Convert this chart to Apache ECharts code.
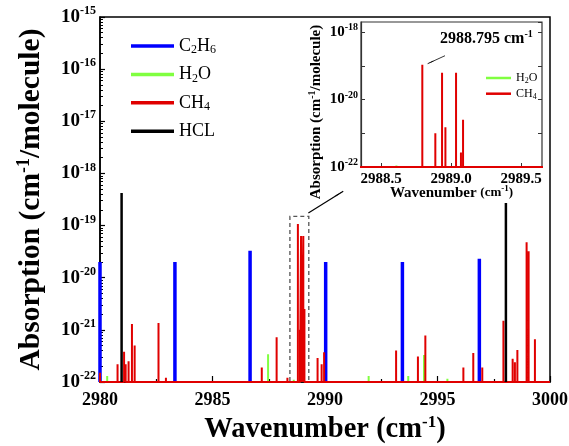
<!DOCTYPE html>
<html><head><meta charset="utf-8">
<script src="https://cdn.jsdelivr.net/npm/echarts@6/dist/echarts.min.js"></script>
<style>html,body{margin:0;padding:0;background:#fff}#c{width:569px;height:446px}</style>
</head><body><div id="c"></div>
<script>
// ---- data (wavenumber cm-1, absorption cm-1/molecule) ----
const c2h6X = [2980.0, 2983.33, 2986.67, 2990.03, 2993.44, 2996.86];
const c2h6Y = [2.0e-20, 2.0e-20, 3.3e-20, 2.0e-20, 2.0e-20, 2.3e-20];

const h2oX = [2980.32, 2983.15, 2987.47, 2988.61, 2991.94, 2993.70, 2994.40, 2995.44];
const h2oY = [1.3e-22, 1.05e-22, 3.4e-22, 1.1e-22, 1.3e-22, 1.3e-22, 3.3e-22, 1.15e-22];

const ch4X = [2980.0, 2980.78, 2981.07, 2981.14, 2981.27, 2981.42, 2981.54, 2982.60, 2982.93,
  2987.19, 2987.85, 2988.33, 2988.795, 2988.888, 2988.936, 2988.96, 2989.036, 2989.071, 2989.086,
  2989.67, 2989.85, 2989.96, 2993.16, 2994.13, 2994.46, 2996.15, 2996.59, 2996.99, 2997.93,
  2998.34, 2998.44, 2998.55, 2998.96, 2999.05, 2999.33];
const ch4Y = [1.5e-22, 2.2e-22, 3.8e-22, 2.2e-22, 2.5e-22, 1.3e-21, 5.0e-22, 1.35e-21, 1.2e-22,
  1.9e-22, 7.2e-22, 1.2e-22, 1.07e-19, 1.0e-21, 6.3e-20, 1.5e-21, 6.3e-20, 2.7e-22, 2.5e-21,
  2.9e-22, 2.2e-22, 3.7e-22, 4.0e-22, 3.1e-22, 7.8e-22, 1.9e-22, 3.6e-22, 1.9e-22, 1.5e-21,
  2.8e-22, 2.4e-22, 4.1e-22, 4.8e-20, 3.2e-20, 6.6e-22];

const hclX = [2980.96, 2998.04];
const hclY = [4.2e-19, 2.7e-19];

const mainXTicks = [2980, 2985, 2990, 2995, 3000];
const insetXTicks = [2988.5, 2989.0, 2989.5];
const mainYExp = [-22, -15];      // decade range of the main log axis
const insetYMax = 2e-18;          // top of the inset log axis
const peakLabel = '2988.795';

// ---- helpers ----
const BASE = 1e-22;
const FF = 'Liberation Serif';
function sticks(xs, ys, baseline, lo, hi) {
  const out = [];
  if (baseline) out.push([lo, BASE]);
  xs.forEach((x, i) => {
    out.push([x, BASE]); out.push([x, ys[i]]); out.push([x, BASE]);
    if (!baseline) out.push([x, '-']);
  });
  if (baseline) out.push([hi, BASE]);
  return out;
}
const minorExp = [];
for (let n = mainYExp[0]; n < mainYExp[1]; n++) for (let k = 2; k <= 9; k++) minorExp.push(n + Math.log10(k));

const nameRich = {
  n: {fontFamily: FF, fontSize: 18, lineHeight: 20, color: '#000'},
  s: {fontFamily: FF, fontSize: 12, lineHeight: 12, verticalAlign: 'bottom', color: '#000'}
};
const nameRichSmall = {
  n: {fontFamily: FF, fontSize: 12, lineHeight: 14, color: '#000'},
  s: {fontFamily: FF, fontSize: 8, lineHeight: 8, verticalAlign: 'bottom', color: '#000'}
};
function legendFmt(name) {
  return name.replace(/([A-Za-z]+)|(\d+)/g, (m, a, d) => a ? '{n|' + a + '}' : '{s|' + d + '}');
}
const expLabel = e => '{b|10}{e|' + Math.round(e) + '}';

const chart = echarts.init(document.getElementById('c'), null, {renderer: 'canvas'});
const option = {
  animation: false,
  backgroundColor: '#fff',
  grid: [
    {left: 100, right: 19, top: 17, bottom: 64, show: true, borderColor: '#000', borderWidth: 1.5, outerBoundsMode: 'none', containLabel: false},
    {left: 361, right: 27, top: 22, bottom: 279, show: true, borderColor: '#333', borderWidth: 1.2, backgroundColor: '#fff', outerBoundsMode: 'none', containLabel: false}
  ],
  xAxis: [
    {type: 'value', gridIndex: 0, min: 2980, max: 3000, interval: 5,
     axisLine: {lineStyle: {color: '#000', width: 1.5}},
     axisTick: {inside: true, length: 6, lineStyle: {color: '#000', width: 1.2}},
     minorTick: {show: true, splitNumber: 2, length: 3, lineStyle: {color: '#000', width: 1.2}},
     splitLine: {show: false},
     axisLabel: {margin: 9, fontFamily: FF, fontSize: 18, fontWeight: 'bold', color: '#000',
       customValues: mainXTicks, formatter: v => String(Math.round(v))},
     name: '{t|Wavenumber (cm}{e|-1}{t|)}', nameLocation: 'middle', nameGap: 32, nameMoveOverlap: false,
     nameTextStyle: {rich: {
       t: {fontFamily: FF, fontSize: 28.5, fontWeight: 'bold', lineHeight: 32, color: '#000'},
       e: {fontFamily: FF, fontSize: 17, fontWeight: 'bold', lineHeight: 18, verticalAlign: 'top', color: '#000'}}}
    },
    {type: 'value', gridIndex: 1, min: 2988.357, max: 2989.65,
     axisLine: {lineStyle: {color: '#333', width: 1.2}},
     axisTick: {inside: true, length: 4, customValues: insetXTicks, lineStyle: {color: '#333'}},
     splitLine: {show: false},
     axisLabel: {margin: 5, fontFamily: FF, fontSize: 15, fontWeight: 'bold', color: '#000',
       customValues: insetXTicks, formatter: v => v.toFixed(1)},
     name: '{t|Wavenumber }{s|(cm}{e|-1}{s|)}', nameLocation: 'middle', nameGap: 17, nameMoveOverlap: false,
     nameTextStyle: {rich: {
       t: {fontFamily: FF, fontSize: 15, fontWeight: 'bold', lineHeight: 18, color: '#000'},
       s: {fontFamily: FF, fontSize: 13, fontWeight: 'bold', lineHeight: 18, color: '#000'},
       e: {fontFamily: FF, fontSize: 9, fontWeight: 'bold', lineHeight: 10, verticalAlign: 'top', color: '#000'}}}
    }
  ],
  yAxis: [
    // 0: main data axis (log)
    {type: 'log', gridIndex: 0, min: Math.pow(10, mainYExp[0]), max: Math.pow(10, mainYExp[1]), logBase: 10,
     axisLine: {show: true, lineStyle: {color: '#000', width: 1.5}},
     axisTick: {show: false}, axisLabel: {show: false}, splitLine: {show: false}},
    // 1: main decade labels / ticks (exponent scale, same span)
    {type: 'value', gridIndex: 0, min: mainYExp[0], max: mainYExp[1], interval: 1, position: 'left',
     axisLine: {show: false}, splitLine: {show: false},
     axisTick: {inside: true, length: 5, lineStyle: {color: '#000', width: 1.2}},
     minorTick: {show: false},
     axisLabel: {margin: 4, showMinLabel: true, showMaxLabel: true, formatter: expLabel, rich: {
       b: {fontFamily: FF, fontSize: 19, fontWeight: 'bold', lineHeight: 24, color: '#000'},
       e: {fontFamily: FF, fontSize: 12, fontWeight: 'bold', lineHeight: 14, verticalAlign: 'top', color: '#000'}}},
     name: '{t|Absorption (cm}{e|-1}{t|/molecule)}', nameLocation: 'middle', nameGap: 52, nameRotate: 90, nameMoveOverlap: false,
     nameTextStyle: {rich: {
       t: {fontFamily: FF, fontSize: 29.5, fontWeight: 'bold', lineHeight: 33, color: '#000'},
       e: {fontFamily: FF, fontSize: 18, fontWeight: 'bold', lineHeight: 18, verticalAlign: 'top', color: '#000'}}}
    },
    // 2: main minor log ticks
    {type: 'value', gridIndex: 0, min: mainYExp[0], max: mainYExp[1], position: 'left',
     axisLine: {show: false}, axisLabel: {show: false}, splitLine: {show: false},
     axisTick: {show: true, inside: true, length: 3, customValues: minorExp, lineStyle: {color: '#000', width: 1}}
    },
    // 3: inset data axis (log)
    {type: 'log', gridIndex: 1, min: 1e-22, max: insetYMax, logBase: 10,
     axisLine: {show: true, lineStyle: {color: '#333', width: 1.2}},
     axisTick: {show: false}, axisLabel: {show: false}, splitLine: {show: false}},
    // 4: inset decade labels left
    {type: 'value', gridIndex: 1, min: -22, max: Math.log10(insetYMax), interval: 1, position: 'left',
     axisLine: {show: false}, splitLine: {show: false},
     axisTick: {inside: true, length: 4, lineStyle: {color: '#333'}},
     axisLabel: {margin: 3, showMinLabel: true, showMaxLabel: false,
       formatter: v => (Math.round(v) % 2 === 0 ? expLabel(v) : ''), rich: {
       b: {fontFamily: FF, fontSize: 15, fontWeight: 'bold', lineHeight: 19, color: '#000'},
       e: {fontFamily: FF, fontSize: 10, fontWeight: 'bold', lineHeight: 11, verticalAlign: 'top', color: '#000'}}},
     name: '{t|Absorption (cm}{e|-1}{t|/molecule)}', nameLocation: 'middle', nameGap: 36, nameRotate: 90, nameMoveOverlap: false,
     nameTextStyle: {padding: [0, 35, 0, 0], rich: {
       t: {fontFamily: FF, fontSize: 15, fontWeight: 'bold', lineHeight: 18, color: '#000'},
       e: {fontFamily: FF, fontSize: 10, fontWeight: 'bold', lineHeight: 10, verticalAlign: 'top', color: '#000'}}}
    },
    // 5: inset ticks right
    {type: 'value', gridIndex: 1, min: -22, max: Math.log10(insetYMax), interval: 1, position: 'right',
     axisLine: {show: false}, axisLabel: {show: false}, splitLine: {show: false},
     axisTick: {inside: true, length: 4, lineStyle: {color: '#333'}}
    }
  ],
  legend: [
    {data: ['C2H6', 'H2O', 'CH4', 'HCL'], orient: 'vertical', left: 126, top: 32,
     itemWidth: 43, itemHeight: 3.5, itemGap: 9.4, icon: 'rect', selectedMode: false,
     formatter: legendFmt, textStyle: {fontFamily: FF, fontSize: 18, color: '#000', rich: nameRich}},
    {data: ['H2O', 'CH4'], orient: 'vertical', left: 481, top: 67,
     itemWidth: 25, itemHeight: 2.5, itemGap: 2.7, icon: 'rect', selectedMode: false,
     formatter: legendFmt, textStyle: {fontFamily: FF, fontSize: 12, color: '#000', rich: nameRichSmall}}
  ],
  graphic: [
    {type: 'text', left: 440, top: 29, silent: true, style: {
      text: '{t|' + peakLabel + ' cm}{e|-1}',
      rich: {
        t: {fontFamily: FF, fontSize: 16, fontWeight: 'bold', lineHeight: 20, fill: '#000'},
        e: {fontFamily: FF, fontSize: 10, fontWeight: 'bold', lineHeight: 11, verticalAlign: 'top', fill: '#000'}}}}
  ],
  series: [
    {name: 'C2H6', type: 'line', xAxisIndex: 0, yAxisIndex: 0, showSymbol: false, silent: true,
     data: sticks(c2h6X, c2h6Y, false), connectNulls: false,
     itemStyle: {color: '#0000ff'}, lineStyle: {color: '#0000ff', width: 3.5}, z: 2},
    {name: 'H2O', type: 'line', xAxisIndex: 0, yAxisIndex: 0, showSymbol: false, silent: true,
     data: sticks(h2oX, h2oY, false), connectNulls: false,
     itemStyle: {color: '#80ff40'}, lineStyle: {color: '#80ff40', width: 2}, z: 3},
    {name: 'CH4', type: 'line', xAxisIndex: 0, yAxisIndex: 0, showSymbol: false, silent: true,
     data: sticks(ch4X, ch4Y, true, 2980, 3000),
     itemStyle: {color: '#e00000'}, lineStyle: {color: '#e00000', width: 2}, z: 4,
     markArea: {silent: true, label: {show: false},
       itemStyle: {color: 'rgba(0,0,0,0)', borderColor: '#555', borderWidth: 1.3, borderType: [4, 3]},
       data: [[{coord: [2988.44, 1e-22]}, {coord: [2989.28, 1.5e-19]}]]},
     markLine: {silent: true, symbol: ['none', 'arrow'], symbolSize: [1, 10], label: {show: false},
       lineStyle: {color: '#000', width: 1.2, type: 'solid'},
       data: [[{coord: [2989.26, 1.75e-19]}, {coord: [2990.81, 4.57e-19]}]]}},
    {name: 'HCL', type: 'line', xAxisIndex: 0, yAxisIndex: 0, showSymbol: false, silent: true,
     data: sticks(hclX, hclY, false), connectNulls: false,
     itemStyle: {color: '#000'}, lineStyle: {color: '#000', width: 2.5}, z: 5},
    {name: 'H2O', type: 'line', xAxisIndex: 1, yAxisIndex: 3, showSymbol: false, silent: true, clip: true,
     data: sticks(h2oX, h2oY, false), connectNulls: false,
     itemStyle: {color: '#80ff40'}, lineStyle: {color: '#80ff40', width: 2}, z: 3},
    {name: 'CH4', type: 'line', xAxisIndex: 1, yAxisIndex: 3, showSymbol: false, silent: true, clip: true,
     data: sticks(ch4X, ch4Y, true, 2980, 3000),
     itemStyle: {color: '#e00000'}, lineStyle: {color: '#e00000', width: 2}, z: 4,
     markLine: {silent: true, symbol: ['none', 'arrow'], symbolSize: [1, 7], label: {show: false},
       lineStyle: {color: '#000', width: 0.8, type: 'solid'},
       data: [[{coord: [2988.957, 2.0e-19]}, {coord: [2988.833, 1.16e-19]}]]}}
  ]
};
chart.setOption(option);
</script>
</body></html>
